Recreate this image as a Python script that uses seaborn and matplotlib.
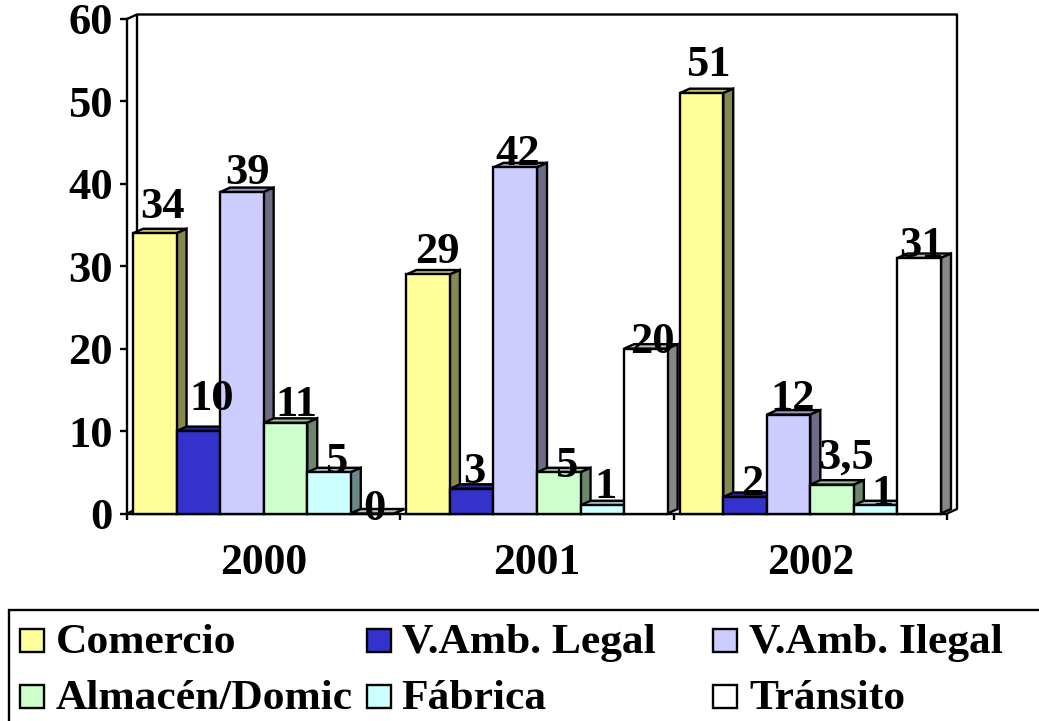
import matplotlib
matplotlib.use("Agg")
import matplotlib.pyplot as plt
import seaborn as sns
import pandas as pd
from matplotlib.colors import to_rgb
from matplotlib.patches import Polygon, Rectangle

# Data
years = ["2000", "2001", "2002"]
series = ["Comercio", "V.Amb. Legal", "V.Amb. Ilegal", "Almacén/Domic", "Fábrica", "Tránsito"]
comercio = [34, 29, 51]
amb_legal = [10, 3, 2]
amb_ilegal = [39, 42, 12]
almacen = [11, 5, 3.5]
fabrica = [5, 1, 1]
transito = [0, 20, 31]
colors = ["#FFFF99", "#3333CC", "#CCCCFF", "#CCFFCC", "#CCFFFF", "#FFFFFF"]

W, H = 1039, 721
X0, X1, Y0, Y1 = 127, 947, 513.5, 19  # plot area in pixels
DX, DY = 10, 4.5  # 3d depth in pixels
LW = 1.7

# label nudges in pixels from bar centre / bar top, the labels sit unevenly in the original
nudge_x = [7.5, 13.5, 6, 11.4, 7, 2,
           9, 3, 2.5, 7, 3.5, 7,
           6.4, 7, 4.3, 14, 7, 2.5]
nudge_y = [15, 21, 8, 7, -1, -6.5,
           11.5, 6, 2.4, -5, 7, -4.3,
           17, 2, 4.6, 15.7, 0, 1]

df = pd.DataFrame({
    "year": years * 6,
    "serie": [s for s in series for _ in years],
    "value": comercio + amb_legal + amb_ilegal + almacen + fabrica + transito,
})

sns.set_theme(style="white")
plt.rcParams["font.family"] = ["Liberation Serif", "DejaVu Serif"]
plt.rcParams["font.weight"] = "bold"

fig = plt.figure(figsize=(W / 100, H / 100), dpi=100)
ax = fig.add_axes([X0 / W, 1 - Y0 / H, (X1 - X0) / W, (Y0 - Y1) / H])
sns.barplot(data=df, x="year", y="value", hue="serie", order=years, hue_order=series,
            palette=colors, width=0.956, gap=0, saturation=1, legend=False,
            edgecolor="black", linewidth=LW, ax=ax)
ax.set_xlim(-0.5, 2.5)
ax.set_ylim(0, 60)
ax.set_xlabel("")
ax.set_ylabel("")
ax.set_yticks(range(0, 61, 10))
ax.set_xticks([-0.5, 0.5, 1.5, 2.5], minor=True)
ax.tick_params(axis="y", length=5, width=LW, left=True, labelsize=32, pad=5, color="black", labelcolor="black")
ax.tick_params(axis="x", which="minor", length=4, width=LW, bottom=True, color="black")
ax.tick_params(axis="x", which="major", length=0, labelsize=31.5, pad=21, labelcolor="black")
for s in ["top", "right"]:
    ax.spines[s].set_visible(False)
for s in ["left", "bottom"]:
    ax.spines[s].set_linewidth(LW)
    ax.spines[s].set_color("black")

dx = DX * 3 / (X1 - X0)
dy = DY * 60 / (Y0 - Y1)

# back wall and floor
ax.plot([-0.5, -0.5 + dx, 2.5 + dx, 2.5 + dx, 2.5], [60, 60 + dy, 60 + dy, dy, 0],
        color="black", lw=LW, clip_on=False, zorder=1)
ax.plot([-0.5 + dx, -0.5 + dx], [60 + dy, dy], color="black", lw=LW, clip_on=False, zorder=1)
ax.plot([-0.5, -0.5 + dx], [0, dy], color="black", lw=LW, clip_on=False, zorder=1)

# extruded faces, bars painted left to right
bars = sorted(ax.patches, key=lambda b: b.get_x())
for i, bar in enumerate(bars):
    x, w, h = bar.get_x(), bar.get_width(), bar.get_height()
    rgb = to_rgb(bar.get_facecolor())
    z = 3 + i
    bar.set_zorder(z + 0.5)
    bar.set_clip_on(False)
    top = [(x, h), (x + w, h), (x + w + dx, h + dy), (x + dx, h + dy)]
    side = [(x + w, 0), (x + w + dx, dy), (x + w + dx, h + dy), (x + w, h)]
    ax.add_patch(Polygon(top, fc=[c * 0.75 for c in rgb], ec="black", lw=LW, zorder=z, clip_on=False))
    ax.add_patch(Polygon(side, fc=[c * 0.53 for c in rgb], ec="black", lw=LW, zorder=z, clip_on=False))
    label = f"{h:g}".replace(".", ",")
    ax.annotate(label, (x + w / 2, h), xytext=(nudge_x[i] * 0.72, nudge_y[i] * 0.72),
                textcoords="offset points", ha="center", va="baseline", fontsize=32,
                fontweight="bold", color="black", zorder=100, annotation_clip=False)

# legend box, columns are evenly spaced so it is laid out by hand
fig.add_artist(Rectangle((8.5 / W, -0.05), 1.1, 1.05 - 610 / H, transform=fig.transFigure,
                         fc="white", ec="black", lw=LW))
col_x = [20, 367, 713]
text_x = [56, 401.5, 749]
row_y = [653, 709]
for i, (name, color) in enumerate(zip(series, colors)):
    px = col_x[i % 3]
    py = row_y[i // 3]
    fig.add_artist(Rectangle((px / W, 1 - (py - 1) / H), 24 / W, 23 / H, transform=fig.transFigure,
                             fc=color, ec="black", lw=LW))
    fig.text(text_x[i % 3] / W, 1 - py / H, name, fontsize=31.3, fontweight="bold", color="black",
             va="baseline", ha="left")

fig.savefig("out.png", dpi=100)
